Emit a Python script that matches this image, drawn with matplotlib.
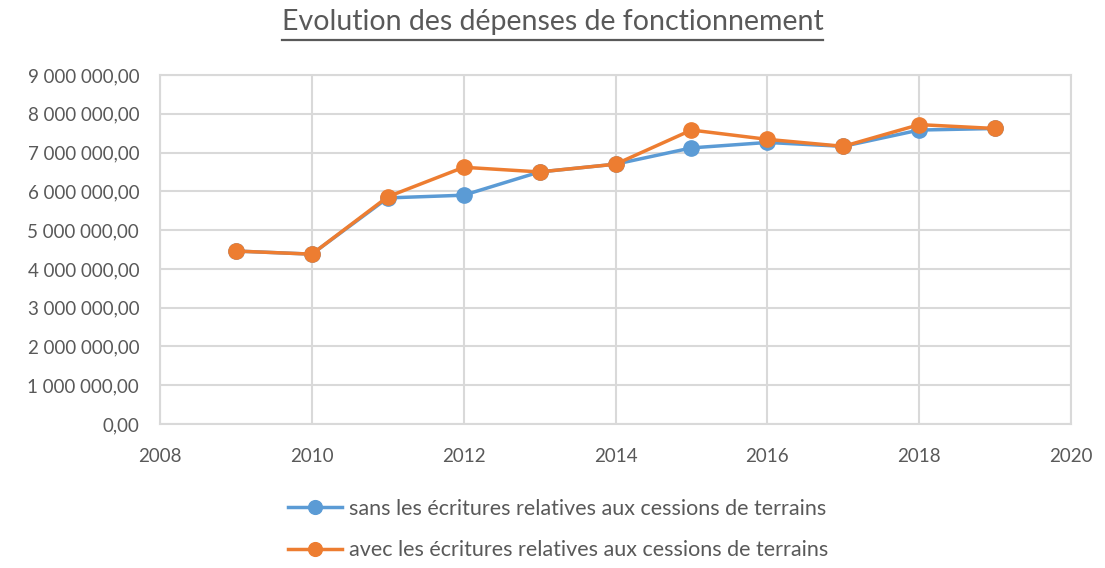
import matplotlib
matplotlib.use("Agg")
import matplotlib.pyplot as plt
from matplotlib.ticker import FuncFormatter, MultipleLocator

years = [2009, 2010, 2011, 2012, 2013, 2014, 2015, 2016, 2017, 2018, 2019]
sans_cessions = [4460000, 4380000, 5830000, 5900000, 6500000, 6700000,
                 7120000, 7260000, 7160000, 7580000, 7620000]
avec_cessions = [4460000, 4380000, 5860000, 6620000, 6500000, 6700000,
                 7580000, 7340000, 7160000, 7720000, 7620000]
labels = ["sans les écritures relatives aux cessions de terrains",
          "avec les écritures relatives aux cessions de terrains"]

plt.rcParams['font.family'] = ['Lato', 'DejaVu Sans']
txt = "#595959"
grid = "#d9d9d9"

fig = plt.figure(figsize=(11.05, 5.68), dpi=100)
ax = fig.add_axes([0.1448, 0.2535, 0.8245, 0.6145])

ax.plot(years, sans_cessions, color="#5B9BD5", lw=2.5, marker="o", ms=11,
        label=labels[0], zorder=3)
ax.plot(years, avec_cessions, color="#ED7D31", lw=2.5, marker="o", ms=11,
        label=labels[1], zorder=4)

ax.set_xlim(2008, 2020)
ax.set_ylim(0, 9000000)
ax.xaxis.set_major_locator(MultipleLocator(2))
ax.yaxis.set_major_locator(MultipleLocator(1000000))

def fr_fmt(v, pos):
    s = f"{v:,.2f}"
    return s.replace(",", " ").replace(".", ",")

ax.yaxis.set_major_formatter(FuncFormatter(fr_fmt))
ax.grid(True, color=grid, lw=1.5)
ax.set_axisbelow(True)
for sp in ax.spines.values():
    sp.set_color(grid)
    sp.set_linewidth(1.5)
ax.tick_params(length=0, colors=txt, labelsize=13.5)
ax.tick_params(axis="y", pad=15)
ax.tick_params(axis="x", pad=17)

title = fig.text(0.5, 0.961, "Evolution des dépenses de fonctionnement",
                 ha="center", va="center", fontsize=20.5, color=txt)
fig.canvas.draw()
bb = title.get_window_extent().transformed(fig.transFigure.inverted())
fig.add_artist(plt.Line2D([bb.x0, bb.x1], [0.929, 0.929], color=txt, lw=1.6))

leg = fig.legend(loc="center", bbox_to_anchor=(0.505, 0.0675), ncol=1,
                 frameon=False, fontsize=15.5, labelcolor=txt, handlelength=2.5,
                 labelspacing=1.0, handletextpad=0.3, markerscale=0.9)

fig.savefig("out.png", dpi=100)
